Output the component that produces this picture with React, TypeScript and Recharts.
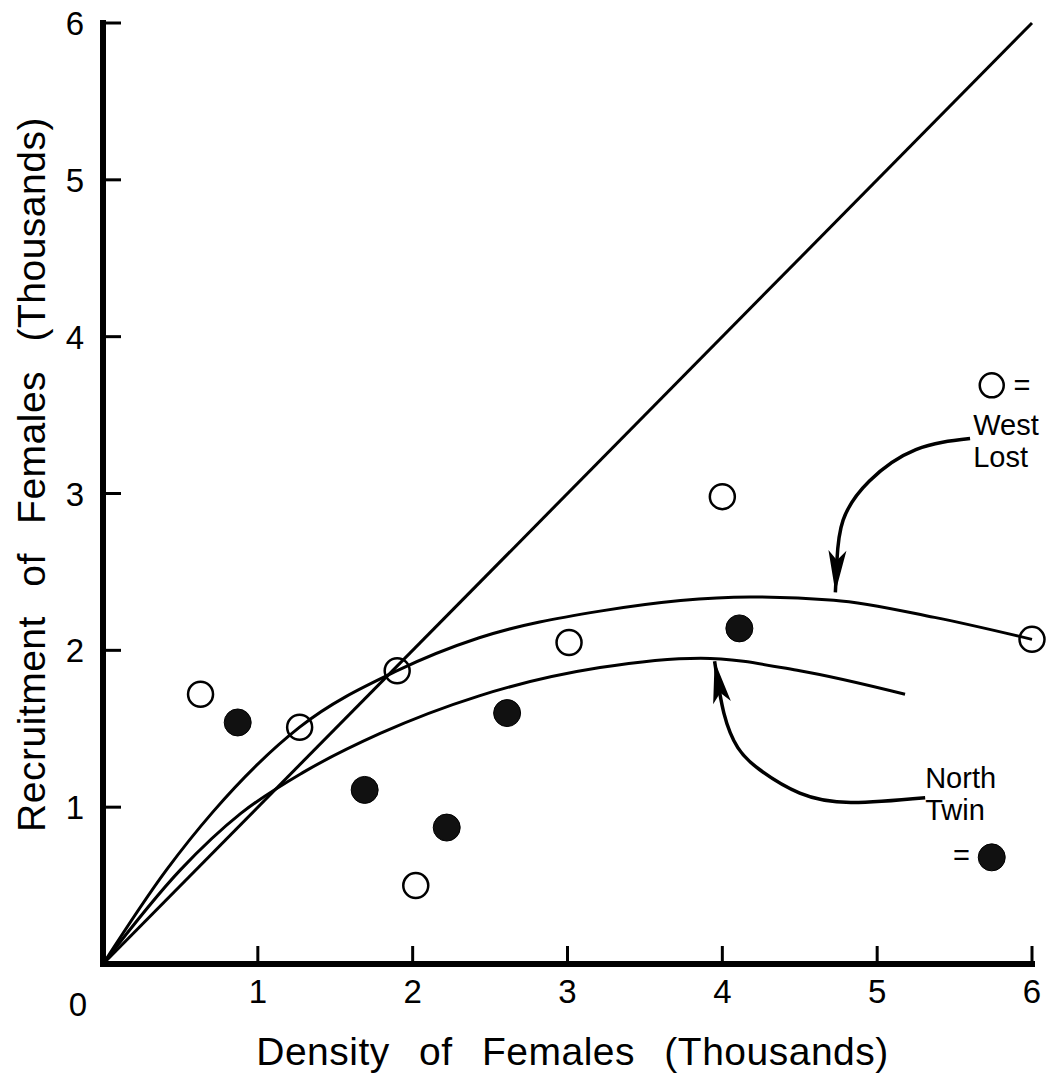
import React from 'react';
import { ComposedChart, Line, Scatter, XAxis, YAxis, ReferenceDot } from 'recharts';

// axis ticks (thousands)
const xTicks = [0, 1, 2, 3, 4, 5, 6];
const yTicks = [1, 2, 3, 4, 5, 6];

// observed points
const westLostPoints = [
  { x: 0.63, y: 1.72 },
  { x: 1.27, y: 1.51 },
  { x: 1.9, y: 1.87 },
  { x: 2.02, y: 0.5 },
  { x: 3.01, y: 2.05 },
  { x: 4.0, y: 2.98 },
  { x: 6.0, y: 2.07 },
];
const northTwinPoints = [
  { x: 0.87, y: 1.54 },
  { x: 1.69, y: 1.11 },
  { x: 2.22, y: 0.87 },
  { x: 2.61, y: 1.6 },
  { x: 4.11, y: 2.14 },
];

// replacement line (recruitment = density)
const replacementLine = [
  { x: 0, y: 0 },
  { x: 6, y: 6 },
];

// fitted recruitment curves
const westLostCurve = [
  { x: 0, y: 0 },
  { x: 0.41, y: 0.6 },
  { x: 0.71, y: 0.97 },
  { x: 1.27, y: 1.51 },
  { x: 1.9, y: 1.87 },
  { x: 2.43, y: 2.08 },
  { x: 3.21, y: 2.25 },
  { x: 4.18, y: 2.34 },
  { x: 4.72, y: 2.32 },
  { x: 5.37, y: 2.21 },
  { x: 6.0, y: 2.07 },
];
const northTwinCurve = [
  { x: 0, y: 0 },
  { x: 0.5, y: 0.6 },
  { x: 0.89, y: 0.96 },
  { x: 1.29, y: 1.22 },
  { x: 1.79, y: 1.47 },
  { x: 2.43, y: 1.71 },
  { x: 3.21, y: 1.89 },
  { x: 3.86, y: 1.95 },
  { x: 4.5, y: 1.87 },
  { x: 5.18, y: 1.72 },
];

// pointer arrows from the legend labels to the curves
const westLostArrow = [
  { x: 5.6, y: 3.35 },
  { x: 5.25, y: 3.28 },
  { x: 4.95, y: 3.08 },
  { x: 4.78, y: 2.83 },
  { x: 4.74, y: 2.57 },
  { x: 4.73, y: 2.37 },
];
const northTwinArrow = [
  { x: 5.31, y: 1.06 },
  { x: 4.83, y: 1.03 },
  { x: 4.5, y: 1.09 },
  { x: 4.24, y: 1.24 },
  { x: 4.1, y: 1.38 },
  { x: 4.01, y: 1.6 },
  { x: 3.95, y: 1.93 },
];

// legend keys and labels
const openKey = { x: 5.74, y: 3.69 };
const filledKey = { x: 5.74, y: 0.68 };
const legendLabels = [
  { text: '=', x: 5.88, y: 3.63 },
  { text: 'West', x: 5.62, y: 3.37 },
  { text: 'Lost', x: 5.62, y: 3.17 },
  { text: 'North', x: 5.31, y: 1.12 },
  { text: 'Twin', x: 5.31, y: 0.92 },
  { text: '=', x: 5.49, y: 0.63 },
];

const FONT = '"Liberation Sans", Arial, Helvetica, sans-serif';

const XTick = (props: any) => {
  const { x, y, payload } = props;
  if (payload.value === 0) {
    return (
      <text x={x - 16} y={y + 52} textAnchor="end" fontSize={33} fontFamily={FONT} fill="#000">
        0
      </text>
    );
  }
  return (
    <g>
      <line x1={x} y1={y} x2={x} y2={y - 18} stroke="#000" strokeWidth={3} />
      <text x={x} y={y + 39} textAnchor="middle" fontSize={33} fontFamily={FONT} fill="#000">
        {payload.value}
      </text>
    </g>
  );
};

const YTick = (props: any) => {
  const { x, y, payload } = props;
  return (
    <g>
      <line x1={x} y1={y} x2={x + 18} y2={y} stroke="#000" strokeWidth={3} />
      <text x={x - 19} y={y + 12} textAnchor="end" fontSize={33} fontFamily={FONT} fill="#000">
        {payload.value}
      </text>
    </g>
  );
};

const titleStyle = { fontSize: 39, fontFamily: FONT, fill: '#000', letterSpacing: 0.5, wordSpacing: 18 };

const XTitle = (props: any) => {
  const { x, y, width } = props.viewBox;
  return (
    <text x={x + width / 2 + 5} y={y + 101} textAnchor="middle" style={titleStyle}>
      Density of Females (Thousands)
    </text>
  );
};

const YTitle = (props: any) => {
  const { x, y, height } = props.viewBox;
  return (
    <text
      x={0}
      y={0}
      transform={`translate(${x - 57},${y + height / 2 - 19}) rotate(-90)`}
      textAnchor="middle"
      style={titleStyle}
    >
      Recruitment of Females (Thousands)
    </text>
  );
};

const OpenCircle = (props: any) => (
  <circle cx={props.cx} cy={props.cy} r={12.5} fill="none" stroke="#000" strokeWidth={2.5} />
);

const FilledCircle = (props: any) => (
  <circle cx={props.cx} cy={props.cy} r={13.5} fill="#111" stroke="#000" strokeWidth={1} />
);

// arrowhead drawn on the last point of an arrow series
const ArrowTip = (props: any) => {
  const { cx, cy, index, points } = props;
  if (!points || index !== points.length - 1) return null;
  const prev = points[index - 1];
  const ang = prev ? (Math.atan2(cy - prev.y, cx - prev.x) * 180) / Math.PI : 90;
  return (
    <path
      key={`tip-${index}`}
      d="M0,0 L-42,-9 L-32,0 L-42,9 Z"
      transform={`translate(${cx},${cy}) rotate(${ang})`}
      fill="#000"
    />
  );
};

const LegendText = (text: string) => (props: any) => {
  const { x, y } = props.viewBox;
  return (
    <text x={x} y={y} textAnchor="start" fontSize={29} fontFamily={FONT} fill="#000">
      {text}
    </text>
  );
};

export default function App() {
  return (
    <div style={{ position: 'absolute', top: 0, left: 0, background: '#fff' }}>
      <ComposedChart
        width={1055}
        height={1076}
        margin={{ top: 23, right: 23, bottom: 111, left: 102 }}
      >
        <XAxis
          type="number"
          dataKey="x"
          domain={[0, 6]}
          ticks={xTicks}
          interval={0}
          height={1}
          tickSize={0}
          tickMargin={0}
          tickLine={false}
          axisLine={{ stroke: '#000', strokeWidth: 6, strokeLinecap: 'square' }}
          tick={<XTick />}
          label={XTitle}
        />
        <YAxis
          type="number"
          dataKey="y"
          domain={[0, 6]}
          ticks={yTicks}
          interval={0}
          width={1}
          tickSize={0}
          tickMargin={0}
          tickLine={false}
          axisLine={{ stroke: '#000', strokeWidth: 6, strokeLinecap: 'square' }}
          tick={<YTick />}
          label={YTitle}
        />

        <Line
          data={replacementLine}
          dataKey="y"
          type="linear"
          stroke="#000"
          strokeWidth={3}
          dot={false}
          activeDot={false}
          isAnimationActive={false}
        />
        <Line
          data={westLostCurve}
          dataKey="y"
          type="monotone"
          stroke="#000"
          strokeWidth={3}
          dot={false}
          activeDot={false}
          isAnimationActive={false}
        />
        <Line
          data={northTwinCurve}
          dataKey="y"
          type="monotone"
          stroke="#000"
          strokeWidth={3}
          dot={false}
          activeDot={false}
          isAnimationActive={false}
        />
        <Line
          data={westLostArrow}
          dataKey="y"
          type="natural"
          stroke="#000"
          strokeWidth={3.5}
          dot={ArrowTip}
          activeDot={false}
          isAnimationActive={false}
        />
        <Line
          data={northTwinArrow}
          dataKey="y"
          type="natural"
          stroke="#000"
          strokeWidth={3.5}
          dot={ArrowTip}
          activeDot={false}
          isAnimationActive={false}
        />

        <Scatter data={westLostPoints} dataKey="y" shape={OpenCircle} isAnimationActive={false} />
        <Scatter data={northTwinPoints} dataKey="y" shape={FilledCircle} isAnimationActive={false} />

        <ReferenceDot x={openKey.x} y={openKey.y} r={12} fill="none" stroke="#000" strokeWidth={2.5} ifOverflow="visible" />
        <ReferenceDot x={filledKey.x} y={filledKey.y} r={13.5} fill="#111" stroke="#000" ifOverflow="visible" />
        {legendLabels.map((l, i) => (
          <ReferenceDot
            key={i}
            x={l.x}
            y={l.y}
            r={0}
            fill="none"
            stroke="none"
            ifOverflow="visible"
            label={LegendText(l.text)}
          />
        ))}
      </ComposedChart>
    </div>
  );
}
